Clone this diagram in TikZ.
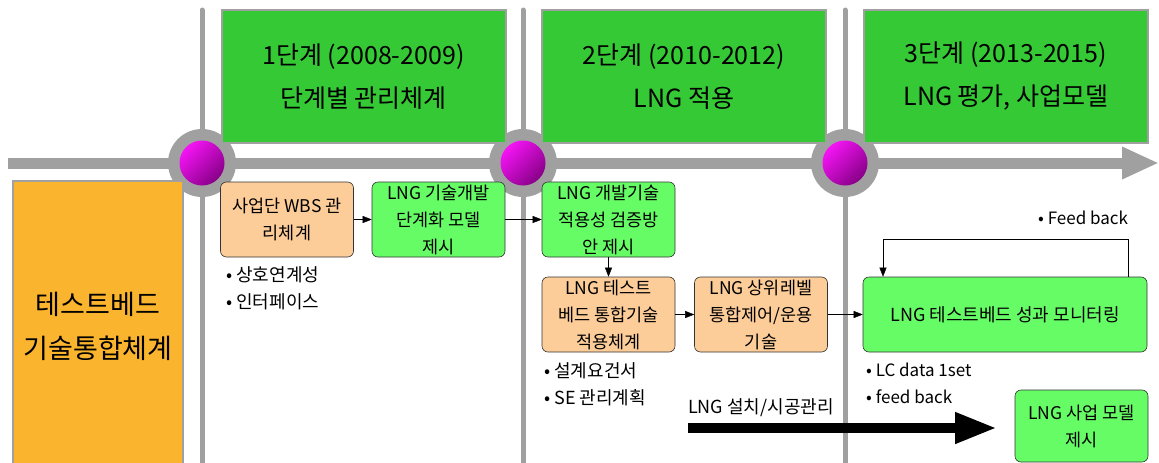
\documentclass[tikz,border=0pt]{standalone}
\usepackage{fontspec}
\setmainfont{Noto Sans CJK KR}
\usetikzlibrary{arrows.meta,positioning,calc}
\definecolor{phasegreen}{RGB}{54,201,54}
\definecolor{boxgreen}{RGB}{102,252,102}
\definecolor{peach}{RGB}{252,204,153}
\definecolor{sysorange}{RGB}{250,180,45}
\definecolor{linegray}{RGB}{160,160,160}
\definecolor{magA}{RGB}{245,20,245}
\definecolor{magB}{RGB}{135,0,135}

\begin{document}
\begin{tikzpicture}
[x=1pt,y=-1pt,
    phase/.style={draw=linegray,line width=2pt,fill=phasegreen,minimum width=284pt,
        minimum height=133pt,align=center,font=\fontsize{25}{43}\selectfont},
    sys/.style={draw=linegray,line width=2pt,fill=sysorange,minimum width=170pt,
        minimum height=290pt,align=center,font=\fontsize{27}{44}\selectfont},
    task/.style={draw=black!80,semithick,rounded corners=6pt,minimum width=133pt,
        minimum height=75pt,align=center,inner sep=2pt,font=\fontsize{17.5}{27}\selectfont},
    gtask/.style={task,fill=boxgreen},
    ptask/.style={task,fill=peach},
    note/.style={anchor=west,align=left,inner sep=0pt,font=\fontsize{18}{27}\selectfont},
    ring/.style={circle,fill=linegray,minimum size=68pt,inner sep=0pt},
    ball/.style={circle,top color=magA,bottom color=magB,shading angle=45,
        minimum size=45pt,inner sep=0pt},
    vline/.style={draw=linegray,line width=5pt,line cap=round},
    timeline/.style={draw=linegray,line width=11pt,-{Triangle[length=37pt,width=30pt]}},
    flow/.style={draw,thin,-{Triangle[length=9pt,width=7pt]}},
    bigflow/.style={draw,line width=10pt,-{Triangle[length=42pt,width=29pt]}}]
\useasboundingbox (0,0) rectangle (1159,463);
%%%%% time axis
\coordinate (top) at (0,10);
\coordinate (bot) at (0,475);
\coordinate (t0) at (8,163);
\coordinate (t1) at (1159,163);
\coordinate (p1) at (202,163);
\coordinate (p2) at (523,163);
\coordinate (p3) at (845,163);
\draw[vline] (p1|-top) -- (p1|-bot);
\draw[vline] (p2|-top) -- (p2|-bot);
\draw[vline] (p3|-top) -- (p3|-bot);
\draw[timeline] (t0) -- (t1);
%% milestones
\node (m1) [ring] at (p1) {};
\node (m2) [ring] at (p2) {};
\node (m3) [ring] at (p3) {};
\node [ball] at (m1) {};
\node [ball] at (m2) {};
\node [ball] at (m3) {};
%%%%% phases
\node (ph1) [phase] at (363.5,76.5) {1단계 (2008-2009)\\단계별 관리체계};
\node (ph2) [phase] at (684,76.5) {2단계 (2010-2012)\\LNG 적용};
\node (ph3) [phase] at (1006,76.5) {3단계 (2013-2015)\\LNG 평가, 사업모델};
%%%%% left column
\node (tb) [sys] at (98,326) {테스트베드\\기술통합체계};
%%%%% tasks
\node (wbs) [ptask] at (287,219.5) {사업단 WBS 관\\리체계};
\node (dev) [gtask] at (438.5,219.5) {LNG 기술개발\\단계화 모델\\제시};
\node (val) [gtask] at (608.5,219.5) {LNG 개발기술\\적용성 검증방\\안 제시};
\node (intg) [ptask] at (608.5,314.5) {LNG 테스트\\베드 통합기술\\적용체계};
\node (ctrl) [ptask] at (761,314.5) {LNG 상위레벨\\통합제어/운용\\기술};
\node (mon) [gtask,minimum width=284pt,font=\fontsize{18}{27}\selectfont] at (1005,314.5) {LNG 테스트베드 성과 모니터링};
\node (biz) [gtask,minimum height=72pt] at (1081.5,426) {LNG 사업 모델\\제시};
%% notes
\node (nwbs) [note] at (226,288.5) {• 상호연계성\\• 인터페이스};
\node (nint) [note] at (544,384.5) {• 설계요건서\\• SE 관리계획};
\node (nmon) [note,font=\fontsize{17}{27}\selectfont] at (866,383.5) {• LC data 1set\\• feed back};
\node (nfb) [note,font=\fontsize{17}{27}\selectfont] at (1038,218) {• Feed back};
%% edges
\draw[flow] (wbs) -- (dev);
\draw[flow] (dev) -- (val);
\draw[flow] (val) -- (intg);
\draw[flow] (intg) -- (ctrl);
\draw[flow] (ctrl) -- (mon);
\coordinate (fbR) at (1128,239);
\coordinate (fbL) at (883,239);
\draw[flow] (mon.north-|fbR) |- (fbL) -- (mon.north-|fbL);
%% installation
\coordinate (in0) at (688,428);
\coordinate (in1) at (997,428);
\node (inst) [note] at (688,408) {LNG 설치/시공관리};
\draw[bigflow] (in0) -- (in1);
\end{tikzpicture}
\end{document}
